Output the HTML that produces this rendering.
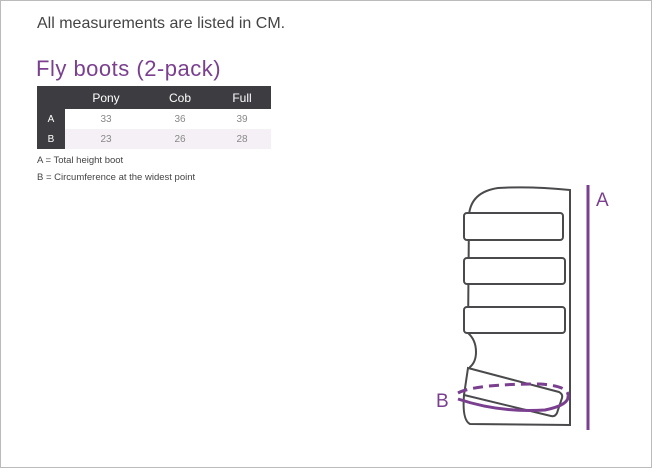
<!DOCTYPE html>
<html><head><style>
body{margin:0;width:652px;height:468px;background:#fff;font-family:"Liberation Sans",sans-serif;position:relative;overflow:hidden}
.frame{position:absolute;left:0;top:0;width:650px;height:466px;border:1px solid #bbb}
.t1{position:absolute;left:37px;top:15px;font-size:16px;color:#444}
.t2{position:absolute;left:36px;top:56px;font-size:22px;color:#7a3f8f;letter-spacing:0.5px}
table{position:absolute;left:37px;top:86px;border-collapse:collapse;width:234px;font-size:10px}
th,td{padding:0}
th{background:#3d3c40;color:#fff;font-weight:normal;font-size:12px;height:23px}
td{height:20px;text-align:center;color:#888}
td.l{background:#3d3c40;color:#fff;width:28px}
tr.b td{background:#f5f0f5}
tr.b td.l{background:#3d3c40}
.n{position:absolute;left:37px;font-size:9.5px;color:#444}
</style></head><body>
<div class="frame"></div>
<div class="t1">All measurements are listed in CM.</div>
<div class="t2">Fly boots (2-pack)</div>
<table><tr><th></th><th>Pony</th><th>Cob</th><th>Full</th></tr>
<tr><td class="l">A</td><td>33</td><td>36</td><td>39</td></tr>
<tr class="b"><td class="l">B</td><td>23</td><td>26</td><td>28</td></tr></table>
<div class="n" style="top:155px">A = Total height boot</div>
<div class="n" style="top:172px">B = Circumference at the widest point</div>
<svg width="652" height="468" style="position:absolute;left:0;top:0">
<g fill="none" stroke="#4a4a4c" stroke-width="2">
<path d="M570,190 Q530,186 498,188 Q471,192 469,215 L468,333 Q476,340 476,352 Q476,362 470,367 L464,395 Q462,420 470,424 L570,425 Z" fill="#fff"/>
<rect x="464" y="213" width="99" height="27" rx="3" fill="#fff"/>
<rect x="464" y="258" width="101" height="26" rx="3" fill="#fff"/>
<rect x="464" y="307" width="101" height="26" rx="3" fill="#fff"/>
<path d="M468,368 L559,392 Q563,394 562,398 L557,413 Q555,417 551,416 L464,395 Z" fill="#fff"/>
</g>
<g fill="none" stroke="#7a3f8f" stroke-width="3">
<path d="M458,393 Q475,384 540,384 Q568,386 568,395" stroke-dasharray="10,6"/>
<path d="M458,399 Q500,413 545,410 Q570,405 568,395"/>
<line x1="588" y1="185" x2="588" y2="430"/>
</g>
<text x="596" y="206" font-size="19" fill="#7a3f8f" font-family="Liberation Sans">A</text>
<text x="436" y="407" font-size="19" fill="#7a3f8f" font-family="Liberation Sans">B</text>
</svg>
</body></html>
